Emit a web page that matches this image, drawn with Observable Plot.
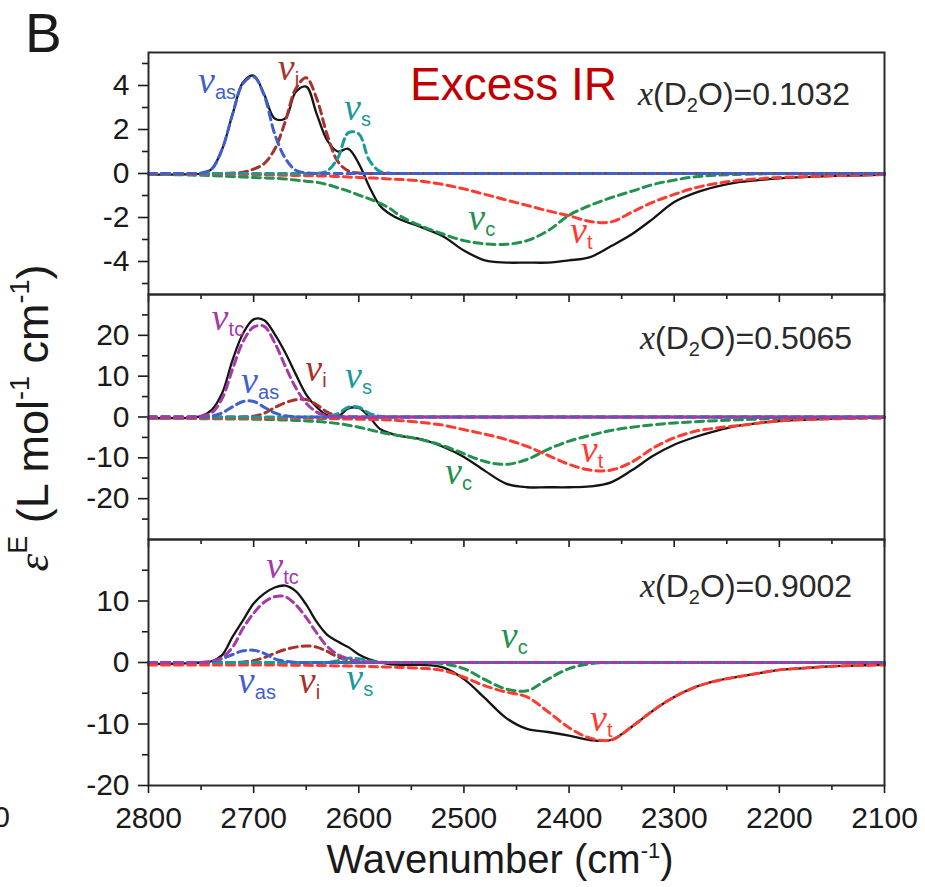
<!DOCTYPE html>
<html><head><meta charset="utf-8">
<script src="https://cdn.jsdelivr.net/npm/d3@7"></script>
<script src="https://cdn.jsdelivr.net/npm/@observablehq/plot@0.6"></script>
<style>
html,body{margin:0;padding:0;background:#fff;}
#root{position:relative;width:925px;height:887px;overflow:hidden;font-family:"Liberation Sans",Arial,sans-serif;}
#root svg{position:absolute;left:0;}
</style></head>
<body><div id="root"></div>
<script>
// ---------- data ----------
const wavenumber = [2800,2780,2760,2750,2740,2730,2720,2710,2700,2690,2680,2670,2660,2650,2640,2630,2620,2610,2600,2590,2580,2570,2560,2540,2520,2500,2480,2460,2440,2420,2400,2380,2360,2340,2320,2300,2280,2260,2240,2220,2200,2180,2160,2140,2120,2100];

// panel 1 : x(D2O)=0.1032
const p1Total = [-0.05,-0.05,-0.03,0,0.2,1.1,2.7,4.15,4.45,3.6,2.5,2.5,3.7,3.95,2.7,1.5,1.0,1.12,0.45,-0.6,-1.45,-1.85,-2.1,-2.45,-2.85,-3.5,-3.95,-4.05,-4.05,-4.05,-3.95,-3.8,-3.3,-2.75,-2.05,-1.3,-0.88,-0.6,-0.4,-0.3,-0.22,-0.17,-0.13,-0.1,-0.08,-0.05];
const p1As = [0,0,0,0.02,0.2,1.1,2.7,4.1,4.4,3.55,1.8,0.7,0.15,0.03,0,0,0,0,0,0,0,0,0,0,0,0,0,0,0,0,0,0,0,0,0,0,0,0,0,0,0,0,0,0,0,0];
const p1I = [0,0,0,0,0,0,0.02,0.06,0.2,0.45,1.1,2.35,3.85,4.35,3.4,1.75,0.55,0.12,0.02,0,0,0,0,0,0,0,0,0,0,0,0,0,0,0,0,0,0,0,0,0,0,0,0,0,0,0];
const p1S = [0,0,0,0,0,0,0,0,0,0,0,0,0,0,0,0.12,0.7,1.85,1.8,0.6,0.1,0.01,0,0,0,0,0,0,0,0,0,0,0,0,0,0,0,0,0,0,0,0,0,0,0,0];
const p1C = [-0.03,-0.05,-0.07,-0.08,-0.1,-0.12,-0.14,-0.16,-0.18,-0.2,-0.22,-0.25,-0.3,-0.35,-0.4,-0.5,-0.65,-0.8,-0.98,-1.15,-1.35,-1.6,-1.95,-2.4,-2.75,-3.05,-3.2,-3.22,-3.05,-2.6,-1.9,-1.45,-1.1,-0.8,-0.5,-0.3,-0.15,-0.08,-0.04,-0.02,-0.01,0,0,0,0,0];
const p1T = [-0.02,-0.02,-0.03,-0.03,-0.03,-0.04,-0.04,-0.05,-0.05,-0.06,-0.07,-0.08,-0.09,-0.1,-0.11,-0.12,-0.14,-0.16,-0.18,-0.2,-0.22,-0.25,-0.27,-0.35,-0.5,-0.7,-0.95,-1.2,-1.45,-1.7,-1.92,-2.18,-2.2,-1.75,-1.3,-0.95,-0.65,-0.45,-0.32,-0.24,-0.18,-0.15,-0.12,-0.09,-0.07,-0.05];

// panel 2 : x(D2O)=0.5065
const p2Total = [-0.3,-0.3,-0.2,0.2,1.7,5.8,14.0,20.5,23.9,23.7,20.3,15.8,10.5,5.5,2.4,0.4,0.1,2.1,2.2,0.0,-2.9,-4.0,-4.7,-5.5,-7.3,-9.8,-13.2,-16.3,-17.2,-17.2,-17.2,-17.0,-16.0,-13.0,-9.5,-6.8,-4.9,-3.4,-2.2,-1.5,-1.0,-0.7,-0.5,-0.35,-0.25,-0.15];
const p2Tc = [0,0,0,0.2,1.0,4.5,11.8,18.5,22.0,22.2,18.2,12.5,7.2,3.4,1.2,0.3,0.05,0,0,0,0,0,0,0,0,0,0,0,0,0,0,0,0,0,0,0,0,0,0,0,0,0,0,0,0,0];
const p2As = [0,0,0,0,0.2,1.0,2.5,3.8,3.8,2.4,1.0,0.3,0.05,0,0,0,0,0,0,0,0,0,0,0,0,0,0,0,0,0,0,0,0,0,0,0,0,0,0,0,0,0,0,0,0,0];
const p2I = [0,0,0,0,0,0,0,0.05,0.2,0.9,2.3,3.5,4.2,4.3,3.0,1.2,0.3,0.05,0,0,0,0,0,0,0,0,0,0,0,0,0,0,0,0,0,0,0,0,0,0,0,0,0,0,0,0];
const p2S = [0,0,0,0,0,0,0,0,0,0,0,0,0,0,0,0.1,0.8,2.4,2.4,0.9,0.2,0.02,0,0,0,0,0,0,0,0,0,0,0,0,0,0,0,0,0,0,0,0,0,0,0,0];
const p2C = [-0.3,-0.3,-0.35,-0.4,-0.4,-0.45,-0.5,-0.5,-0.55,-0.6,-0.65,-0.75,-0.85,-0.95,-1.1,-1.3,-1.6,-2.0,-2.5,-3.1,-3.7,-4.2,-4.6,-5.6,-7.0,-9.0,-10.9,-11.6,-10.4,-7.9,-5.9,-4.5,-3.3,-2.5,-1.9,-1.45,-1.15,-0.9,-0.7,-0.5,-0.35,-0.25,-0.18,-0.12,-0.1,-0.08];
const p2T = [-0.3,-0.3,-0.3,-0.3,-0.3,-0.3,-0.3,-0.3,-0.3,-0.3,-0.3,-0.3,-0.3,-0.32,-0.35,-0.4,-0.45,-0.5,-0.55,-0.6,-0.65,-0.75,-0.9,-1.35,-2.0,-3.1,-4.2,-5.5,-7.2,-9.4,-11.6,-13.0,-13.0,-11.0,-7.6,-5.1,-3.5,-2.7,-2.15,-1.5,-0.95,-0.7,-0.5,-0.4,-0.33,-0.3];

// panel 3 : x(D2O)=0.9002
const p3Total = [-0.2,-0.2,-0.1,0,0.2,1.2,4.2,6.9,9.6,11.2,12.2,12.5,11.6,9.4,6.6,4.5,3.4,2.5,1.3,0.5,0.0,-0.3,-0.4,-0.4,-0.8,-2.7,-5.8,-9.0,-10.8,-11.3,-11.9,-12.6,-12.6,-10.4,-7.8,-5.6,-4.0,-3.0,-2.35,-1.75,-1.2,-0.95,-0.7,-0.55,-0.45,-0.4];
const p3Tc = [0,0,0,0,0.2,0.8,2.5,5.6,8.0,9.8,10.7,10.7,9.4,7.3,4.8,2.6,1.3,0.6,0.2,0.05,0,0,0,0,0,0,0,0,0,0,0,0,0,0,0,0,0,0,0,0,0,0,0,0,0,0];
const p3As = [0,0,0,0,0.1,0.6,1.3,1.9,2.0,1.5,0.6,0.2,0.05,0,0,0,0,0,0,0,0,0,0,0,0,0,0,0,0,0,0,0,0,0,0,0,0,0,0,0,0,0,0,0,0,0];
const p3I = [0,0,0,0,0,0,0,0.1,0.3,0.8,1.5,2.1,2.5,2.7,2.5,1.8,0.9,0.4,0.15,0.05,0,0,0,0,0,0,0,0,0,0,0,0,0,0,0,0,0,0,0,0,0,0,0,0,0,0];
const p3S = [0,0,0,0,0,0,0,0,0,0,0,0,0,0,0,0,0.3,0.7,0.6,0.25,0.05,0,0,0,0,0,0,0,0,0,0,0,0,0,0,0,0,0,0,0,0,0,0,0,0,0];
const p3C = [0,0,0,0,0,0,0,0,0,0,0,0,0,0,0,0,0,0,0,0,0,0,0,0,-0.2,-1.0,-2.8,-4.3,-4.6,-2.7,-1.0,-0.2,0,0,0,0,0,0,0,0,0,0,0,0,0,0];
const p3T = [-0.4,-0.4,-0.4,-0.4,-0.4,-0.4,-0.4,-0.4,-0.4,-0.4,-0.4,-0.45,-0.45,-0.45,-0.5,-0.5,-0.55,-0.55,-0.6,-0.65,-0.7,-0.75,-0.8,-0.95,-1.3,-2.4,-3.8,-4.8,-5.6,-8.0,-10.6,-12.3,-12.6,-10.4,-7.8,-5.6,-4.0,-3.0,-2.35,-1.75,-1.2,-0.95,-0.7,-0.55,-0.45,-0.4];

// tick values
const xMajor = [2800,2700,2600,2500,2400,2300,2200,2100];
const xMinor = [2750,2650,2550,2450,2350,2250,2150];
const y1Major = [-4,-2,0,2,4], y1Minor = [-5,-3,-1,1,3,5];
const y2Major = [-20,-10,0,10,20], y2Minor = [-25,-15,-5,5,15,25];
const y3Major = [-20,-10,0,10], y3Minor = [-15,-5,5,15];

// band labels
const COL = {as:"#3f5fcf", i:"#a8312b", s:"#18999a", c:"#22914d", t:"#ff3b30", tc:"#a43aa8"};
const labels1 = [
  {wn:2753, v:3.64, sub:"as"}, {wn:2677, v:4.23, sub:"i"}, {wn:2614, v:2.41, sub:"s"},
  {wn:2496, v:-2.59, sub:"c"}, {wn:2399, v:-3.18, sub:"t"}];
const labels2 = [
  {wn:2740, v:21.2, sub:"tc"}, {wn:2712, v:5.8, sub:"as"}, {wn:2651, v:8.9, sub:"i"},
  {wn:2613, v:7.0, sub:"s"}, {wn:2518, v:-16.3, sub:"c"}, {wn:2389, v:-11.1, sub:"t"}];
const labels3 = [
  {wn:2688, v:13.8, sub:"tc"}, {wn:2715, v:-5.0, sub:"as"}, {wn:2657, v:-4.9, sub:"i"},
  {wn:2612, v:-4.55, sub:"s"}, {wn:2465, v:2.3, sub:"c"}, {wn:2380, v:-11.1, sub:"t"}];

// ---------- drawing ----------
const rows = arr => wavenumber.map((wn, i) => ({wn, v: arr[i]}));
const root = document.getElementById("root");

function panel({top, height, marginTop, marginBottom, yDomain, yMajor, yMinor, total, comps, labels, xLabels}) {
  const marks = [
    Plot.axisY(yMajor, {anchor:"left", tickSize:10, tickPadding:9, tickFormat:d => String(d), label:null, strokeWidth:1.6}),
    Plot.axisY(yMinor, {anchor:"left", tickSize:6, tickFormat:() => "", label:null, strokeWidth:1.6}),
    Plot.axisX(xMajor, {anchor:"bottom", tickSize:8, tickPadding:13, tickFormat: xLabels ? (d => String(d)) : (() => ""), label:null, strokeWidth:1.6}),
    Plot.axisX(xMinor, {anchor:"bottom", tickSize:5, tickFormat:() => "", label:null, strokeWidth:1.6}),
    Plot.line(rows(total), {x:"wn", y:"v", stroke:"#141414", strokeWidth:2.3, curve:"catmull-rom"}),
    ...comps.map(([arr, key]) => Plot.line(rows(arr), {x:"wn", y:"v", stroke:COL[key], strokeWidth:3, strokeDasharray:"8,5", curve:"catmull-rom"})),
    Plot.text(labels, {x:"wn", y:"v", text:() => "ν", fill:d => COL[d.sub], textAnchor:"start", lineAnchor:"bottom", fontFamily:"Liberation Serif, serif", fontStyle:"italic", fontSize:38}),
    Plot.text(labels, {x:"wn", y:"v", text:"sub", fill:d => COL[d.sub], textAnchor:"start", lineAnchor:"bottom", dx:17, dy:6, fontSize:20}),
    Plot.frame({stroke:"#2a2a2a", strokeWidth:2})
  ];
  const svg = Plot.plot({
    width:925, height, marginLeft:148, marginRight:41, marginTop, marginBottom,
    x:{domain:[2800,2100]}, y:{domain:yDomain}, color:{type:"identity"},
    style:{background:"transparent", overflow:"visible", fontFamily:"Liberation Sans, Arial, sans-serif", fontSize:"30px", color:"#1a1a1a"},
    marks
  });
  svg.style.top = top + "px";
  root.appendChild(svg);
}

panel({top:0, height:294, marginTop:52, marginBottom:0, yDomain:[-5.5,5.5], yMajor:y1Major, yMinor:y1Minor,
  total:p1Total, comps:[[p1C,"c"],[p1T,"t"],[p1I,"i"],[p1S,"s"],[p1As,"as"]], labels:labels1, xLabels:false});
panel({top:294, height:245, marginTop:0, marginBottom:0, yDomain:[-30,30], yMajor:y2Major, yMinor:y2Minor,
  total:p2Total, comps:[[p2C,"c"],[p2T,"t"],[p2I,"i"],[p2S,"s"],[p2As,"as"],[p2Tc,"tc"]], labels:labels2, xLabels:false});
panel({top:539, height:348, marginTop:0, marginBottom:102, yDomain:[-20,20], yMajor:y3Major, yMinor:y3Minor,
  total:p3Total, comps:[[p3C,"c"],[p3T,"t"],[p3I,"i"],[p3S,"s"],[p3As,"as"],[p3Tc,"tc"]], labels:labels3, xLabels:true});

// ---------- annotations ----------
const ov = d3.select(root).append("svg").attr("width",925).attr("height",887)
  .style("top","0px").style("font-family","Liberation Sans, Arial, sans-serif").style("fill","#1a1a1a");
ov.append("text").attr("x",25).attr("y",52).attr("font-size",55).text("B");
ov.append("text").attr("x",410).attr("y",100).attr("font-size",46).attr("fill","#c00000").text("Excess IR");
const fracs = [["0.1032",638,105],["0.5065",640,349],["0.9002",640,597]];
for (const [val, x, y] of fracs) {
  const t = ov.append("text").attr("x",x).attr("y",y).attr("font-size",32).attr("fill","#2a2a2a");
  t.append("tspan").attr("font-family","Liberation Serif, serif").attr("font-style","italic").attr("font-size",34).text("x");
  t.append("tspan").text("(D");
  t.append("tspan").attr("font-size",20).attr("dy",7).text("2");
  t.append("tspan").attr("dy",-7).text("O)=" + val);
}
const xt = ov.append("text").attr("x",500).attr("y",873).attr("text-anchor","middle").attr("font-size",40);
xt.append("tspan").text("Wavenumber (cm");
xt.append("tspan").attr("font-size",22).attr("dy",-15).text("-1");
xt.append("tspan").attr("dy",15).text(")");
const yt = ov.append("text").attr("transform","translate(48,418) rotate(-90)").attr("text-anchor","middle").attr("font-size",45);
yt.append("tspan").attr("font-family","Liberation Serif, serif").attr("font-style","italic").text("ε");
yt.append("tspan").attr("font-size",27).attr("dy",-21).text("E");
yt.append("tspan").attr("dy",21).text(" (L mol");
yt.append("tspan").attr("font-size",27).attr("dy",-19).text("-1");
yt.append("tspan").attr("dy",19).text(" cm");
yt.append("tspan").attr("font-size",27).attr("dy",-19).text("-1");
yt.append("tspan").attr("dy",19).text(")");
ov.append("text").attr("x",10).attr("y",827).attr("text-anchor","end").attr("font-size",30).text("2100");
</script>
</body></html>
